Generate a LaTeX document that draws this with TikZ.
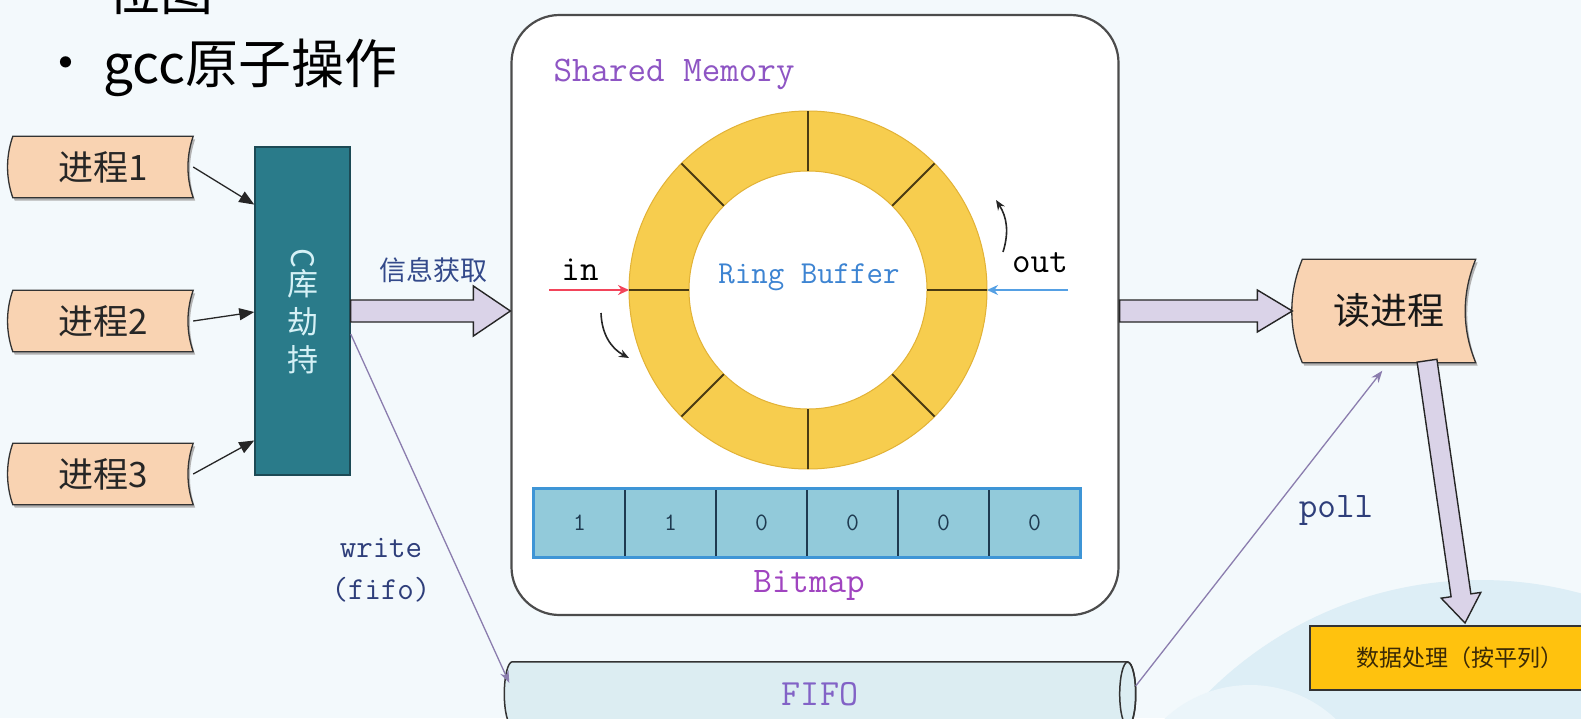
\documentclass[tikz,border=0pt]{standalone}
\usepackage{fontspec}
\setmainfont{Noto Sans CJK SC}
\newfontfamily\cjk{Noto Sans CJK SC}
\newcommand\mono{\ttfamily}
\usetikzlibrary{calc,arrows.meta,backgrounds}

\definecolor{bgc}{HTML}{F3F9FC}
\definecolor{deco}{HTML}{DDEEF6}
\definecolor{peach}{HTML}{F9D3B2}
\definecolor{tealc}{HTML}{2A7B8A}
\definecolor{tealdark}{HTML}{1C4A55}
\definecolor{tealtext}{HTML}{D5F1F6}
\definecolor{lav}{HTML}{DAD3E8}
\definecolor{thinc}{HTML}{8B7DAE}
\definecolor{ringc}{HTML}{F7CD4E}
\definecolor{ringedge}{HTML}{E2B236}
\definecolor{spokec}{HTML}{4A3B12}
\definecolor{purp}{HTML}{8E55C4}
\definecolor{bitpurp}{HTML}{A044C0}
\definecolor{rbblue}{HTML}{3D84D2}
\definecolor{navy}{HTML}{2E3E7A}
\definecolor{bitc}{HTML}{92CADA}
\definecolor{bitdiv}{HTML}{1E3A50}
\definecolor{bitborder}{HTML}{3E95D6}
\definecolor{inred}{HTML}{F2445A}
\definecolor{outblue}{HTML}{55A0E4}
\definecolor{gold}{HTML}{FFC20E}
\definecolor{fifoc}{HTML}{DCEDF2}
\definecolor{fifotext}{HTML}{8262C6}
\definecolor{infotext}{HTML}{33498A}
\definecolor{dptext}{HTML}{3B2A05}

\newcommand\bannerpath[3]{(#1.north west) .. controls +(-#2,#3) and +(-#2,-#3) .. (#1.south west) -- (#1.south east) .. controls +(-#2,-#3) and +(-#2,#3) .. (#1.north east) -- cycle}

\newcommand\fatarrow[5]{%
  \coordinate (fa-h) at ($(#2)!#5pt!(#1)$);
  \draw[fat] ($(#1)!#3pt!90:(#2)$) -- ($(fa-h)!#3pt!-90:(#1)$) -- ($(fa-h)!#4pt!-90:(#1)$) -- (#2) -- ($(fa-h)!#4pt!90:(#1)$) -- ($(fa-h)!#3pt!90:(#1)$) -- ($(#1)!#3pt!-90:(#2)$) -- cycle;}

\tikzset{
  banner/.style={draw=black!80, line width=1.3pt, fill=peach},
  bshadow/.style={fill=black!30, transform canvas={shift={(2pt,-3pt)}}},
  proc/.style={inner sep=0pt, minimum width=180pt, minimum height=61pt, font={\cjk\fontsize{35}{35}\selectfont}, text=black!85},
  rproc/.style={inner sep=0pt, minimum width=173pt, minimum height=103pt, font={\cjk\fontsize{37}{37}\selectfont}, text=black!90},
  cboxst/.style={draw=tealdark, line width=1.5pt, fill=tealc, minimum width=95pt, minimum height=328pt, inner sep=0pt, align=center, text=tealtext, font={\cjk\fontsize{31}{38}\selectfont}},
  blk/.style={-{Triangle[length=15pt,width=12pt]}, line width=1.3pt, draw=black!85},
  fat/.style={draw=black!85, line width=1.4pt, fill=lav, line join=miter},
  thinarr/.style={draw=thinc, line width=1.3pt, -{Stealth[length=12pt,width=9pt]}},
  smbox/.style={draw=black!70, line width=2.2pt, fill=white, rounded corners=48pt, minimum width=607pt, minimum height=600pt},
  monot/.style={font={\mono\fontsize{36}{36}\selectfont}},
  monos/.style={font={\mono\fontsize{32}{32}\selectfont}},
  bitcell/.style={minimum width=91pt, minimum height=68pt, inner sep=0pt, fill=bitc, draw=bitdiv, line width=1.5pt, font={\mono\fontsize{25}{25}\selectfont}, text=bitdiv},
  bitouter/.style={draw=bitborder, line width=3pt},
  spoke/.style={draw=spokec, line width=2pt},
  inarr/.style={draw=inred, line width=2pt, -{Stealth[length=11pt,width=10pt]}},
  outarr/.style={draw=outblue, line width=2pt, -{Stealth[length=11pt,width=10pt]}},
  curv/.style={draw=black!85, line width=1.6pt, -{Stealth[length=10pt,width=8pt]}},
  dpbox/.style={draw=black!80, line width=2pt, fill=gold, minimum width=300pt, minimum height=64pt, inner sep=0pt, font={\cjk\fontsize{23}{23}\selectfont}, text=dptext},
  fifonode/.style={minimum width=615pt, minimum height=64pt, inner sep=0pt, font={\mono\fontsize{37}{37}\selectfont}, text=fifotext},
  cyl/.style={draw=black!80, line width=1.5pt, fill=fifoc},
  bigt/.style={font={\cjk\fontsize{53}{53}\selectfont}, text=black}
}

\begin{document}
\begin{tikzpicture}[x=1pt,y=-1pt]
\useasboundingbox (0,0) rectangle (1581,718);
\begin{scope}[on background layer]
  \fill[bgc] (0,0) rectangle (1581,718);
  \fill[deco] (1480,965) circle[radius=385pt];
  \fill[deco!60] (1250,810) circle[radius=125pt];
\end{scope}

% top text
\node[bigt, anchor=west] (t0) at (104,-10) {位图};
\node[bigt] (bul) at (66,70) {•};
\node[bigt, anchor=west] (t1) at (100,68) {gcc原子操作};

% processes
\node[proc] (p1) at (103,167) {进程1};
\node[proc] (p2) at (103,321) {进程2};
\node[proc] (p3) at (103,474) {进程3};

% C library hijack
\node[cboxst] (cbox) at (302.5,311) {\rotatebox{-90}{C}\\库\\劫\\持};

\draw[blk] (p1.east) -- ($(cbox.north west)!0.177!(cbox.south west)$);
\draw[blk] (p2.east) -- ($(cbox.north west)!0.503!(cbox.south west)$);
\draw[blk] (p3.east) -- ($(cbox.north west)!0.893!(cbox.south west)$);

% shared memory
\node[smbox] (sm) at (815,315) {};
\node[monot, text=purp, anchor=west] (smt) at (550,74) {Shared Memory};

% ring buffer
\coordinate (rc) at (808,290);
\fill[ringc, even odd rule] (rc) circle[radius=179pt] (rc) circle[radius=119pt];
\draw[ringedge, line width=1pt] (rc) circle[radius=179pt] (rc) circle[radius=119pt];
\foreach \a in {0,45,...,315}
  \draw[spoke] ($(rc)+(\a:119pt)$) -- ($(rc)+(\a:179pt)$);
\node[monos, text=rbblue] (rbt) at (809,277) {Ring Buffer};

\node[monot, text=black] (intext) at (580,270) {in};
\coordinate (inS) at (549,290);
\draw[inarr] (inS) -- ($(rc)+(-179,0)$);
\node[monot, text=black] (outtext) at (1040,263) {out};
\coordinate (outS) at (1068,290);
\draw[outarr] (outS) -- ($(rc)+(179,0)$);

\coordinate (ca1) at (601,313);
\coordinate (ca2) at (629,358);
\draw[curv] (ca1) to[bend right=30] (ca2);
\coordinate (cb1) at (1003,252);
\coordinate (cb2) at (996,200);
\draw[curv] (cb1) to[bend right=25] (cb2);

% bitmap
\foreach \v [count=\i] in {1,1,0,0,0,0}
  \node[bitcell] (b\i) at ({534+91*(\i-0.5)},523) {\v};
\draw[bitouter] (b1.north west) rectangle (b6.south east);
\node[monot, text=bitpurp] (bml) at (809,585) {Bitmap};

% read process, data processing
\node[rproc] (rp) at (1389,311) {读进程};
\node[dpbox] (dp) at (1460,658) {数据处理（按平列）};

% FIFO
\node[fifonode] (fifo) at (820,694) {FIFO};

\begin{scope}[on background layer]
  \foreach \n in {p1,p2,p3} {
    \fill[bshadow] \bannerpath{\n}{7}{20};
    \draw[banner] \bannerpath{\n}{7}{20};
  }
  \fill[bshadow] \bannerpath{rp}{14}{34};
  \draw[banner] \bannerpath{rp}{14}{34};
  \filldraw[cyl] (fifo.north east) -- (fifo.north west) arc[start angle=90, end angle=270, x radius=8pt, y radius=32pt] -- (fifo.south east) arc[start angle=-90, end angle=90, x radius=8pt, y radius=32pt] -- cycle;
\end{scope}
\draw[black!80, line width=1.5pt] (fifo.east) ellipse[x radius=8pt, y radius=32pt];

% fat arrows
\coordinate (fa1s) at (cbox.east);
\coordinate (fa1e) at (sm.west |- cbox.east);
\fatarrow{fa1s}{fa1e}{11}{25}{37}
\node[font={\cjk\fontsize{27}{27}\selectfont}, text=infotext] (infol) at (433,270) {信息获取};

\coordinate (fa2s) at (sm.east |- rp.west);
\coordinate (fa2e) at ($(rp.west)+(-10,0)$);
\fatarrow{fa2s}{fa2e}{11}{21}{35}

\coordinate (fa3s) at ($(rp.south)+(38,-2)$);
\coordinate (fa3e) at ($(dp.north)+(5,-2)$);
\fatarrow{fa3s}{fa3e}{10}{20}{28}

% write / poll
\coordinate (wr1) at ($(cbox.north east)!0.57!(cbox.south east)$);
\draw[thinarr] (wr1) -- ($(fifo.west)+(-3,-11)$);
\node[monos, text=navy] (wrl) at (381,548) {write};
\node[monos, text=navy] (fifol) at (381,590) {(fifo)};

\draw[thinarr] ($(fifo.east)+(8,-8)$) -- ($(rp.south west)+(80,8)$);
\node[monot, text=navy] (polll) at (1336,510) {poll};
\end{tikzpicture}
\end{document}
